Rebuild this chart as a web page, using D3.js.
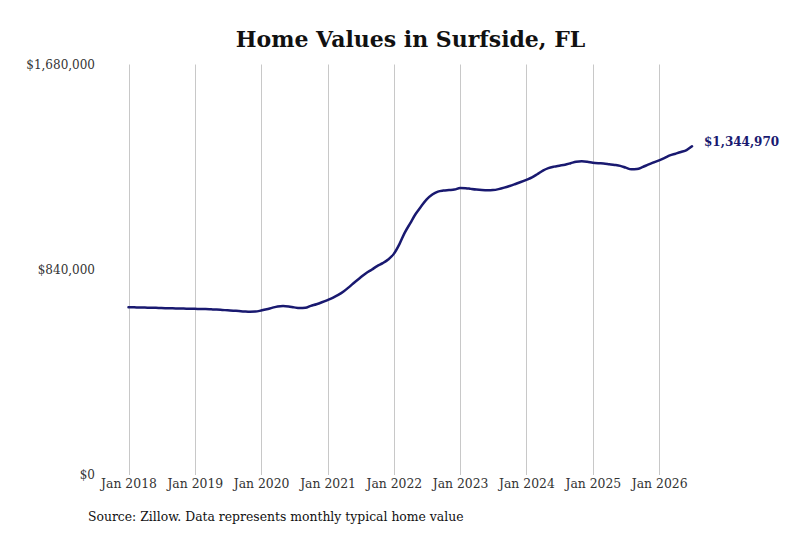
<!DOCTYPE html>
<html>
<head>
<meta charset="utf-8">
<script src="https://cdn.jsdelivr.net/npm/d3@7"></script>
<style>
  body { margin: 0; background: #fff; }
  svg { display: block; }
</style>
</head>
<body>
<div id="chart"></div>
<script>
// --- data: monthly typical home value, Jan 2018 to Jul 2026 ---
const startMonth = "2018-01";
const homeValues = [
  687000, 686500, 685500, 685000, 684500, 684000, 683000, 682500, 682000, 681500, 681000, 680500,
  680000, 679500, 679000, 678000, 677000, 675500, 674000, 672500, 671000, 669500, 668500, 669000,
  673000, 678000, 684000, 690000, 692000, 690000, 686000, 683000, 684000, 692000, 699000, 707000,
  716000, 726000, 737000, 752000, 770000, 790000, 808000, 826000, 840000, 855000, 867000, 882000,
  905000, 945000, 990000, 1030000, 1068000, 1100000, 1128000, 1148000, 1160000, 1164000, 1166000, 1168000,
  1175000, 1174000, 1171000, 1168000, 1166000, 1165000, 1166000, 1170000, 1176000, 1183000, 1191000, 1199000,
  1208000, 1218000, 1231000, 1246000, 1256000, 1262000, 1266000, 1270000, 1276000, 1282000, 1284000, 1282000,
  1278000, 1276000, 1275000, 1272000, 1269000, 1265000, 1258000, 1251000, 1252000, 1260000, 1270000, 1279000,
  1288000, 1298000, 1308000, 1315000, 1322000, 1330000, 1344970
];
const yTickValues = [0, 840000, 1680000];
const yTickLabels = ["$0", "$840,000", "$1,680,000"];
const xTickYears = [2018, 2019, 2020, 2021, 2022, 2023, 2024, 2025, 2026];
const titleText = "Home Values in Surfside, FL";
const sourceText = "Source: Zillow. Data represents monthly typical home value";

const width = 800, height = 533;
const margin = { top: 64.5, left: 128.5, bottom: 58, right: 108 };

const parseMonth = d3.timeParse("%Y-%m");
const start = parseMonth(startMonth);
const series = homeValues.map((v, i) => ({ date: d3.timeMonth.offset(start, i), value: v }));
const last = series[series.length - 1];

const svg = d3.select("#chart").append("svg")
  .attr("width", width)
  .attr("height", height);

const x = d3.scaleTime()
  .domain([start, last.date])
  .range([margin.left, width - margin.right]);

const y = d3.scaleLinear()
  .domain([0, 1680000])
  .range([height - margin.bottom, margin.top]);

const font = "'DejaVu Serif', serif";

// Vertical grid lines at each January
const xTicks = xTickYears.map(yr => new Date(yr, 0, 1));
svg.append("g")
  .selectAll("line")
  .data(xTicks)
  .join("line")
  .attr("x1", d => Math.round(x(d)) + 0.5)
  .attr("x2", d => Math.round(x(d)) + 0.5)
  .attr("y1", y(1680000))
  .attr("y2", y(0))
  .attr("stroke", "#c8c8c8")
  .attr("stroke-width", 1);

// X axis labels
const xAxis = svg.append("g")
  .attr("transform", `translate(0,${y(0)})`)
  .call(d3.axisBottom(x).tickValues(xTicks).tickSize(0).tickPadding(4)
    .tickFormat(d3.timeFormat("Jan %Y")));
xAxis.select(".domain").remove();
xAxis.selectAll("text")
  .style("font-family", font)
  .style("font-size", "12.4px")
  .attr("fill", "#333");

// Y axis labels
const yAxis = svg.append("g")
  .attr("transform", "translate(95,0)")
  .call(d3.axisLeft(y).tickValues(yTickValues).tickSize(0).tickPadding(0)
    .tickFormat((d, i) => yTickLabels[i]));
yAxis.select(".domain").remove();
yAxis.selectAll("text")
  .style("font-family", font)
  .style("font-size", "12px")
  .attr("fill", "#333");

// Line
const line = d3.line()
  .x(d => x(d.date))
  .y(d => y(d.value))
  .curve(d3.curveMonotoneX);

svg.append("path")
  .datum(series)
  .attr("fill", "none")
  .attr("stroke", "#191970")
  .attr("stroke-width", 2.5)
  .attr("stroke-linejoin", "round")
  .attr("stroke-linecap", "round")
  .attr("d", line);

// Last value label
svg.append("text")
  .attr("x", x(last.date) + 12)
  .attr("y", y(last.value) - 4)
  .attr("dominant-baseline", "middle")
  .style("font-family", font)
  .style("font-size", "12px")
  .style("font-weight", "bold")
  .attr("fill", "#191970")
  .text(d3.format("$,")(last.value));

// Title
svg.append("text")
  .attr("x", 410.5)
  .attr("y", 47)
  .attr("text-anchor", "middle")
  .style("font-family", font)
  .style("font-size", "22px")
  .style("font-weight", "bold")
  .attr("fill", "#111")
  .text(titleText);

// Source note
svg.append("text")
  .attr("x", 88)
  .attr("y", 521)
  .style("font-family", font)
  .style("font-size", "12.4px")
  .attr("fill", "#111")
  .text(sourceText);
</script>
</body>
</html>
